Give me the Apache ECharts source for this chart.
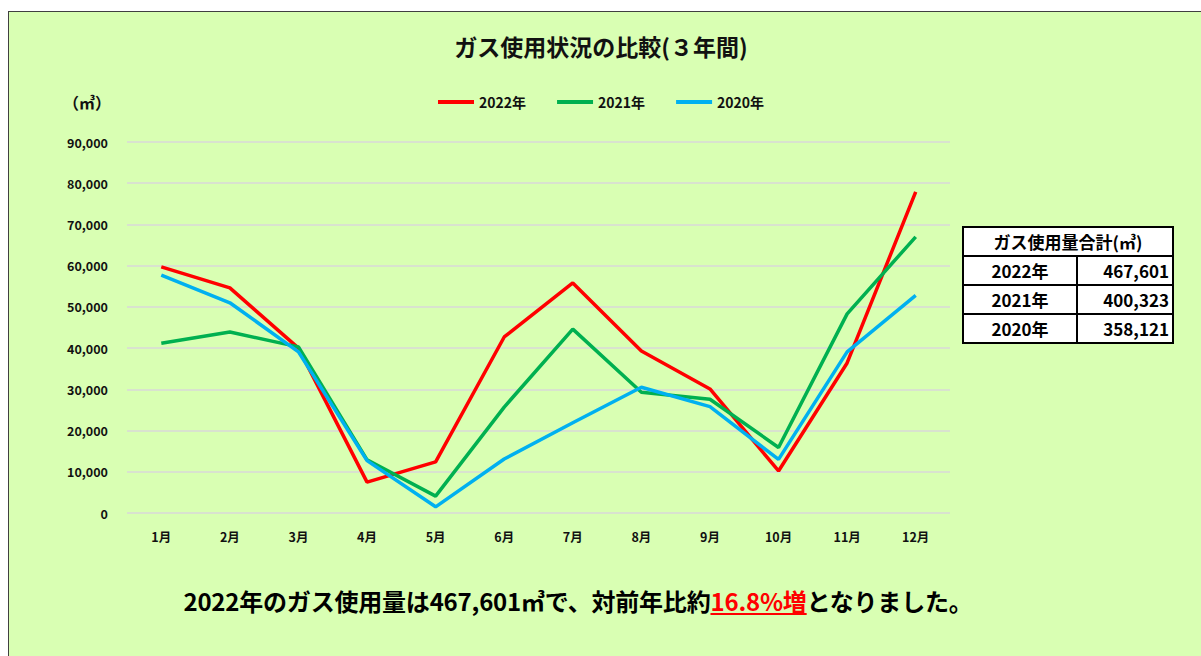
<!DOCTYPE html>
<html>
  <head>
    <meta charset="utf-8" />
    <title>ガス使用状況の比較</title>
    <script src="https://cdn.jsdelivr.net/npm/echarts@6/dist/echarts.min.js"></script>
    <style>
      * {
        margin: 0;
        padding: 0;
      }
      html,
      body {
        width: 1201px;
        height: 656px;
        overflow: hidden;
        background: #fff;
        font-family: "Noto Sans CJK JP", sans-serif;
      }
      #frame {
        position: absolute;
        left: 8px;
        top: 11px;
        width: 1200px;
        height: 650px;
        background: #d9ffb3;
        border: 1px solid #404040;
      }
      #container {
        position: absolute;
        left: 0;
        top: 0;
        width: 1201px;
        height: 656px;
      }
      #total-table {
        position: absolute;
        left: 962px;
        top: 226px;
        width: 212px;
        border-collapse: collapse;
        background: #fff;
        font-weight: bold;
        font-size: 17px;
        color: #000;
      }
      #total-table td {
        border: 2px solid #000;
        height: 27px;
        line-height: 27px;
        padding: 0 3px;
      }
      #total-table .head {
        text-align: center;
      }
      #total-table .year {
        text-align: center;
        width: 106px;
      }
      #total-table .val {
        text-align: right;
      }
      #summary {
        position: absolute;
        left: 0;
        top: 583px;
        width: 1156px;
        text-align: center;
        font-size: 24px;
        font-weight: bold;
        color: #000;
        white-space: nowrap;
        letter-spacing: -0.2px;
      }
      #summary u {
        color: #ff0000;
      }
    </style>
  </head>
  <body>
    <div id="frame"></div>
    <div id="container"></div>
    <table id="total-table"></table>
    <div id="summary"></div>
    <script>
      const months = ["1月", "2月", "3月", "4月", "5月", "6月", "7月", "8月", "9月", "10月", "11月", "12月"];
      const gas2022 = [59700, 54600, 40000, 7500, 12400, 42700, 55800, 39300, 30100, 10200, 36400, 77900];
      const gas2021 = [41200, 43900, 40300, 12900, 4100, 25700, 44600, 29300, 27600, 15900, 48300, 67000];
      const gas2020 = [57700, 51000, 39100, 12700, 1500, 13100, 21900, 30500, 25800, 13000, 39100, 52800];
      const yearNames = ["2022年", "2021年", "2020年"];
      const yearTotals = [467601, 400323, 358121];

      // 合計テーブル
      const table = document.getElementById("total-table");
      let rows = '<tr><td class="head" colspan="2">ガス使用量合計(㎥)</td></tr>';
      yearNames.forEach((n, i) => {
        rows += '<tr><td class="year">' + n + '</td><td class="val">' + yearTotals[i].toLocaleString("en-US") + "</td></tr>";
      });
      table.innerHTML = rows;

      // 対前年比
      const rate = ((yearTotals[0] / yearTotals[1] - 1) * 100).toFixed(1);
      document.getElementById("summary").innerHTML =
        yearNames[0] + "のガス使用量は" + yearTotals[0].toLocaleString("en-US") +
        "㎥で、対前年比約<u>" + rate + "%増</u>となりました。";

      const font = "Noto Sans CJK JP";
      const myChart = echarts.init(document.getElementById("container"), null, { renderer: "svg" });
      myChart.setOption({
        backgroundColor: "transparent",
        textStyle: { fontFamily: font },
        title: {
          text: "ガス使用状況の比較(３年間)",
          left: 596,
          textAlign: "center",
          top: 29,
          textStyle: { fontSize: 23, fontWeight: "bold", color: "#111", fontFamily: font },
        },
        legend: {
          top: 90,
          left: 433,
          icon: "rect",
          itemWidth: 36,
          itemHeight: 4,
          itemGap: 31,
          textStyle: { fontSize: 14, fontWeight: "bold", color: "#111", fontFamily: font },
        },
        graphic: [
          {
            type: "text",
            left: 63,
            top: 94,
            style: { text: "（㎥）", fontSize: 16, fontWeight: "bold", fill: "#111", fontFamily: font },
          },
        ],
        grid: { left: 127, right: 251, top: 142, bottom: 143 },
        xAxis: {
          type: "category",
          data: months,
          axisLine: { show: false },
          axisTick: { show: false },
          axisLabel: { margin: 17, fontSize: 12.5, fontWeight: "bold", color: "#111", fontFamily: font },
        },
        yAxis: {
          type: "value",
          min: 0,
          max: 90000,
          interval: 10000,
          axisLabel: {
            margin: 19,
            fontSize: 12.5,
            fontWeight: "bold",
            color: "#111",
            fontFamily: font,
            formatter: (v) => v.toLocaleString("en-US"),
          },
          splitLine: { lineStyle: { color: "#d9d9d9", width: 1.5 } },
        },
        series: [
          { name: yearNames[0], type: "line", data: gas2022, color: "#ff0000" },
          { name: yearNames[1], type: "line", data: gas2021, color: "#00b050" },
          { name: yearNames[2], type: "line", data: gas2020, color: "#00b0f0" },
        ].map((s) => Object.assign(s, { showSymbol: false, lineStyle: { width: 3.5 }, emphasis: { disabled: true } })),
      });
    </script>
  </body>
</html>
